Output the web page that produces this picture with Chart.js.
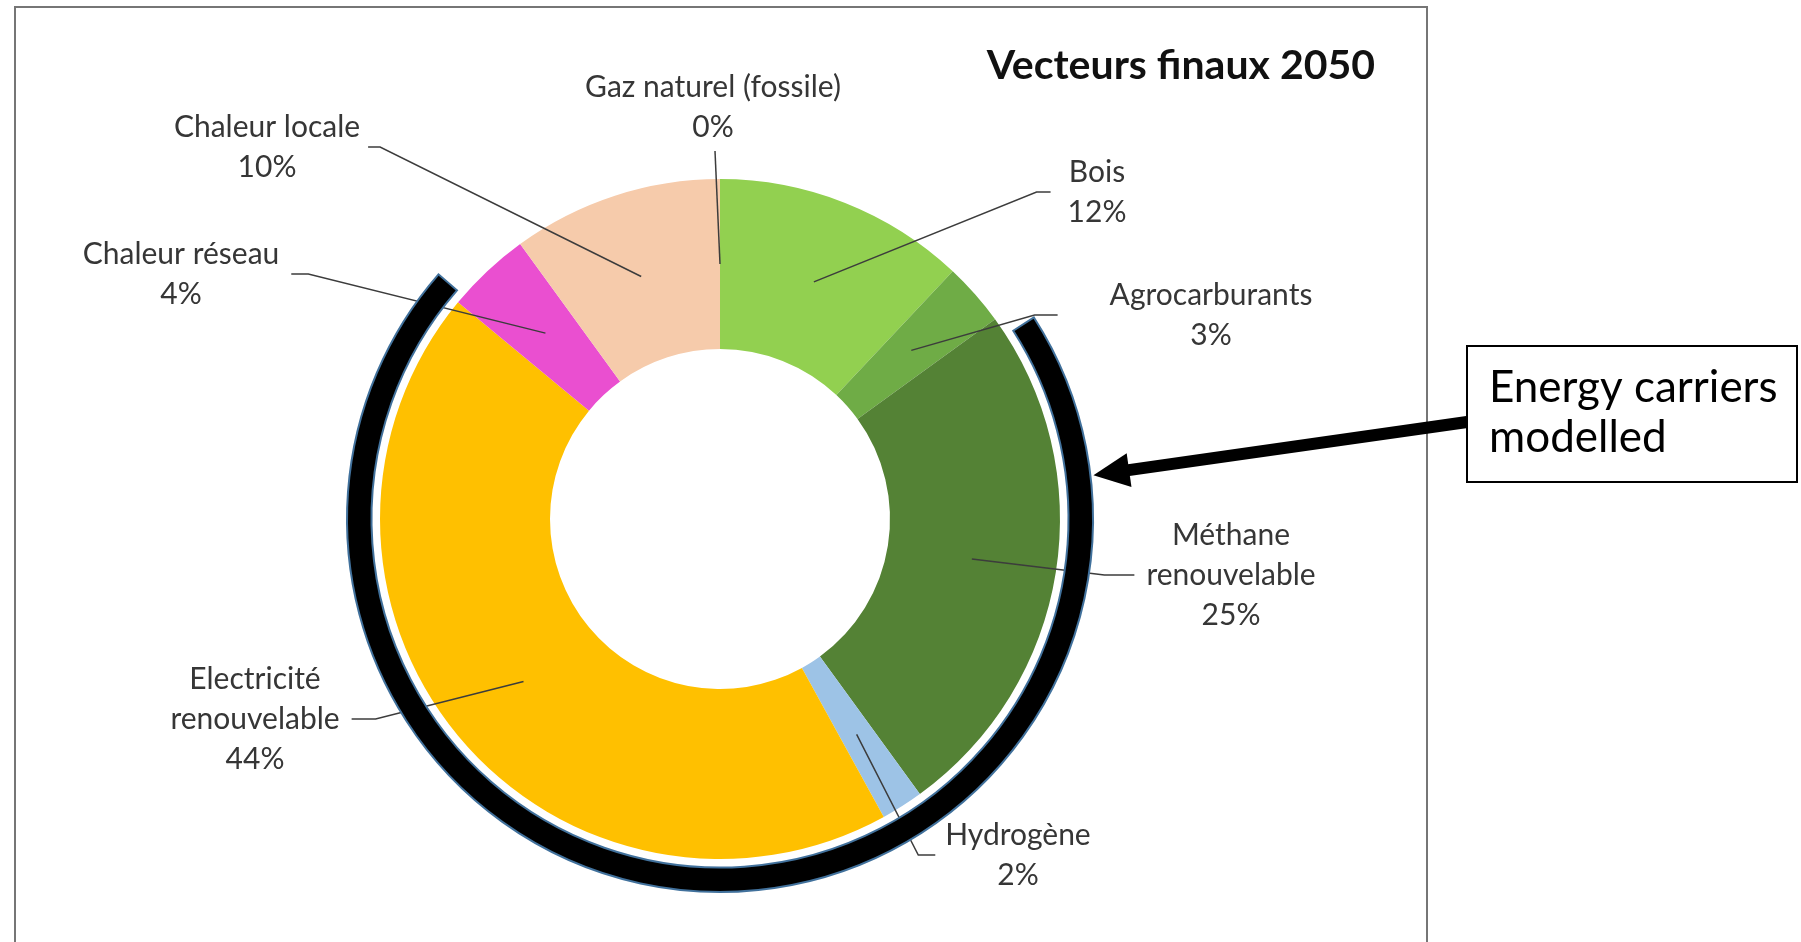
<!DOCTYPE html>
<html>
<head>
<meta charset="utf-8">
<script src="https://cdn.jsdelivr.net/npm/chart.js@4.4.0/dist/chart.umd.min.js"></script>
<style>
  html, body { margin: 0; padding: 0; background: #fff; }
  #wrap { position: relative; width: 1801px; height: 942px; }
</style>
</head>
<body>
<div id="wrap"><canvas id="chart"></canvas></div>
<script>
const categories = [
  'Gaz naturel (fossile)', 'Bois', 'Agrocarburants', ['Méthane', 'renouvelable'],
  'Hydrogène', ['Electricité', 'renouvelable'], 'Chaleur réseau', 'Chaleur locale'
];
const shares = [0, 12, 3, 25, 2, 44, 4, 10];
const modelled = [false, false, false, true, true, true, false, false];
const chartTitle = 'Vecteurs finaux 2050';
const noteLines = ['Energy carriers', 'modelled'];

const sliceColors = ['#7f7f7f', '#92d050', '#6fac46', '#548235', '#9dc3e6', '#ffc000', '#ea4fd0', '#f6cbab'];

// label blocks: centre offset from the doughnut centre, side the leader leaves from
const labelPlacement = [
  { dx: -7,   dy: -412, side: 'bottom', pad: 4,  stub: 0 },
  { dx: 377,  dy: -327, side: 'left',   pad: 17, stub: 14 },
  { dx: 491,  dy: -204, side: 'left',   pad: 52, stub: 23 },
  { dx: 511,  dy: 56,   side: 'left',   pad: 12, stub: 30 },
  { dx: 298,  dy: 336,  side: 'left',   pad: 10, stub: 17 },
  { dx: -465, dy: 200,  side: 'right',  pad: 12, stub: 24 },
  { dx: -539, dy: -245, side: 'right',  pad: 12, stub: 17 },
  { dx: -453, dy: -372, side: 'right',  pad: 8,  stub: 12 }
];

const deg = Math.PI / 180;

const overlay = {
  id: 'overlay',
  afterDraw(chart) {
    const ctx = chart.ctx;
    const arcs = chart.getDatasetMeta(0).data;
    const cx = arcs[0].x, cy = arcs[0].y, R = arcs[0].outerRadius;

    ctx.save();

    // chart frame (bottom edge runs off the page)
    ctx.strokeStyle = '#767676';
    ctx.lineWidth = 2;
    ctx.strokeRect(15, 7, 1412, 960);

    // title
    ctx.fillStyle = '#111';
    ctx.font = 'bold 41px Lato';
    ctx.textAlign = 'right';
    ctx.textBaseline = 'alphabetic';
    ctx.fillText(chartTitle, 1375, 79);

    // data labels with leader lines to the slice centres
    const lh = 40;
    ctx.font = '30px Lato';
    ctx.textAlign = 'center';
    ctx.textBaseline = 'middle';
    arcs.forEach((arc, i) => {
      const p = labelPlacement[i];
      const name = categories[i];
      const lines = (Array.isArray(name) ? name : [name]).concat(shares[i] + '%');
      const bx = cx + p.dx, by = cy + p.dy;
      const top = by - (lines.length - 1) * lh / 2;
      const w = Math.max(...lines.map(t => ctx.measureText(t).width));

      ctx.fillStyle = '#363636';
      lines.forEach((t, k) => ctx.fillText(t, bx, top + k * lh));

      const c = arc.getCenterPoint();
      ctx.strokeStyle = '#3c3c3c';
      ctx.lineWidth = 1.5;
      ctx.beginPath();
      if (p.side === 'bottom') {
        ctx.moveTo(bx + 2, by + lines.length * lh / 2 + p.pad);
      } else {
        const dir = p.side === 'left' ? -1 : 1;
        const x0 = bx + dir * (w / 2 + p.pad);
        ctx.moveTo(x0, by);
        ctx.lineTo(x0 + dir * p.stub, by);
      }
      ctx.lineTo(c.x, c.y);
      ctx.stroke();
    });

    // bracket round the modelled carriers
    const idx = modelled.map((m, i) => m ? i : -1).filter(i => i >= 0);
    const a0 = arcs[idx[0]].startAngle + 3.3 * deg;
    const a1 = arcs[idx[idx.length - 1]].endAngle + 1.4 * deg;
    const rIn = R + 8.5, rOut = R + 33;
    ctx.beginPath();
    ctx.arc(cx, cy, rOut, a0, a1);
    ctx.arc(cx, cy, rIn, a1, a0, true);
    ctx.closePath();
    ctx.fillStyle = '#000';
    ctx.fill();
    ctx.strokeStyle = '#41719c';
    ctx.lineWidth = 2;
    ctx.stroke();

    // note box
    const box = { x: 1467, y: 346, w: 330, h: 136 };
    ctx.fillStyle = '#fff';
    ctx.fillRect(box.x, box.y, box.w, box.h);
    ctx.strokeStyle = '#000';
    ctx.lineWidth = 2;
    ctx.strokeRect(box.x, box.y, box.w, box.h);
    ctx.fillStyle = '#000';
    ctx.font = '44px Lato';
    ctx.textAlign = 'left';
    ctx.textBaseline = 'alphabetic';
    ctx.fillText(noteLines[0], box.x + 22, box.y + 56);
    ctx.fillText(noteLines[1], box.x + 22, box.y + 106);

    // arrow from the box to the bracket
    const tipAng = -Math.PI / 2 + 83.3 * deg;
    const tip = { x: cx + (rOut + 3) * Math.cos(tipAng), y: cy + (rOut + 3) * Math.sin(tipAng) };
    const tail = { x: box.x, y: box.y + 76 };
    const ang = Math.atan2(tip.y - tail.y, tip.x - tail.x);
    const headLen = 36, headHalf = 17;
    const base = { x: tip.x - headLen * Math.cos(ang), y: tip.y - headLen * Math.sin(ang) };
    ctx.strokeStyle = '#000';
    ctx.lineWidth = 12;
    ctx.beginPath();
    ctx.moveTo(tail.x, tail.y);
    ctx.lineTo(base.x + 4 * Math.cos(ang), base.y + 4 * Math.sin(ang));
    ctx.stroke();
    ctx.beginPath();
    ctx.moveTo(tip.x, tip.y);
    ctx.lineTo(base.x - headHalf * Math.sin(ang), base.y + headHalf * Math.cos(ang));
    ctx.lineTo(base.x + headHalf * Math.sin(ang), base.y - headHalf * Math.cos(ang));
    ctx.closePath();
    ctx.fillStyle = '#000';
    ctx.fill();

    ctx.restore();
  }
};

new Chart(document.getElementById('chart'), {
  type: 'doughnut',
  data: {
    labels: categories,
    datasets: [{
      data: shares,
      backgroundColor: sliceColors,
      borderWidth: 0,
      hoverOffset: 0
    }]
  },
  options: {
    responsive: true,
    maintainAspectRatio: false,
    animation: false,
    events: [],
    cutout: '50%',
    layout: { padding: { left: 380, right: 741, top: 179, bottom: 83 } },
    plugins: {
      legend: { display: false },
      tooltip: { enabled: false }
    }
  },
  plugins: [overlay]
});
</script>
</body>
</html>
